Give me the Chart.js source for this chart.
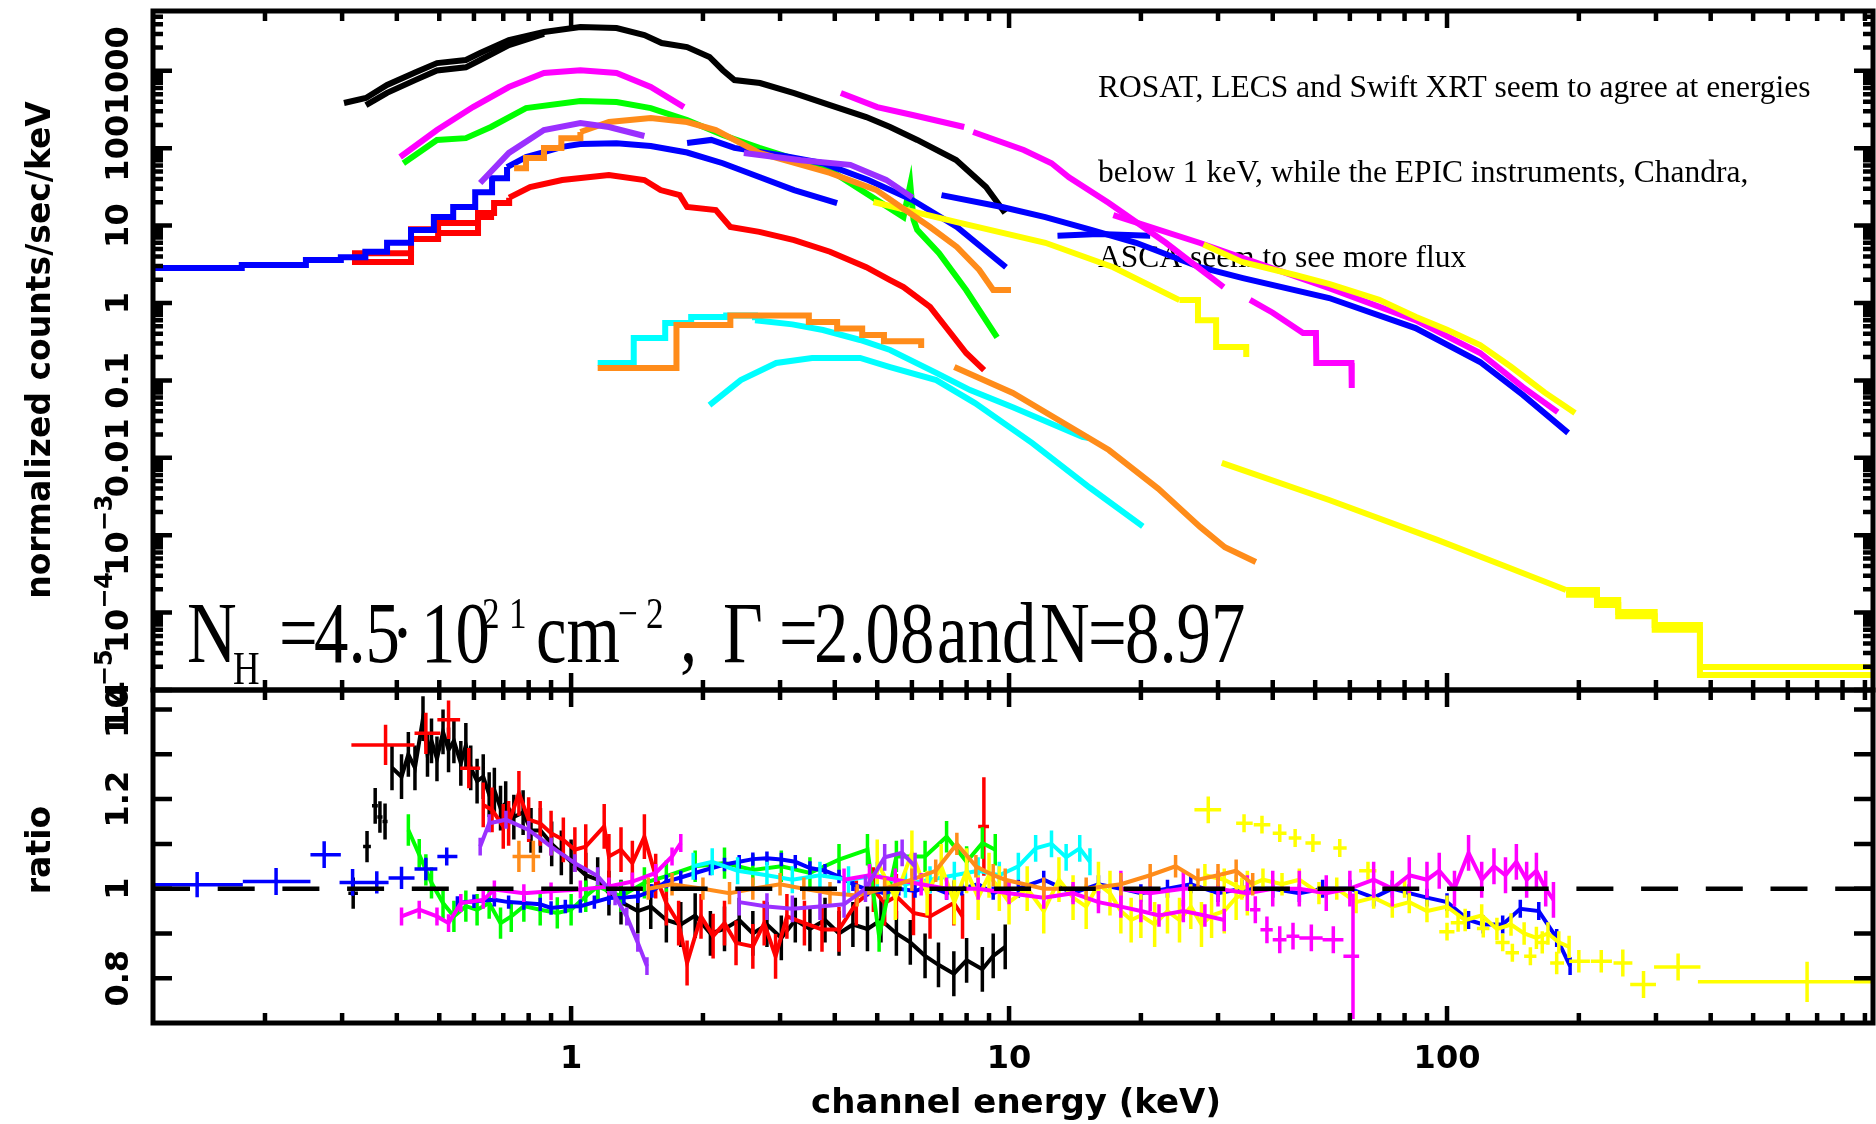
<!DOCTYPE html>
<html>
<head>
<meta charset="utf-8">
<script src="https://cdn.jsdelivr.net/npm/chart.js@4.4.1/dist/chart.umd.min.js"></script>
<style>
  html, body { margin: 0; padding: 0; background: #fff; }
  #wrap { position: relative; width: 1876px; height: 1124px; overflow: hidden; background: #fff; }
  canvas { position: absolute; left: 0; }
  #topChart { top: 0; }
  #ratioChart { top: 680px; }
</style>
</head>
<body>
<div id="wrap">
  <canvas id="topChart" width="1876" height="760"></canvas>
  <canvas id="ratioChart" width="1876" height="444"></canvas>
</div>
<script>
// axis ranges
const X_MIN = 0.111, X_MAX = 939;
const Y_MIN = 1e-5, Y_MAX = 5930;
const R_MIN = 0.7, R_MAX = 1.4437;

// tick labels
const xTickValues = [1, 10, 100];
const xTickLabels = ['1', '10', '100'];
const yTickValues = [1000, 100, 10, 1, 0.1, 0.01, 1e-3, 1e-4, 1e-5];
const yTickLabels = ['1000', '100', '10', '1', '0.1', '0.01', '10^\u22123', '10^\u22124', '10^\u22125'];
const ratioTickValues = [0.8, 1, 1.2, 1.4];
const ratioTickLabels = ['0.8', '1', '1.2', '1.4'];
const ratioMinorValues = [0.8, 0.9, 1.0, 1.1, 1.2, 1.3, 1.4];

// ---- top panel: normalized counts/sec/keV ----
const blackE = [0.303, 0.340, 0.380, 0.443, 0.494, 0.575, 0.620, 0.721, 0.867, 1.05, 1.27, 1.47, 1.61, 1.84, 2.07, 2.22, 2.36, 2.70, 3.23, 3.90, 4.72, 5.35, 6.17, 7.57, 8.86, 9.79];
const blackV = [384, 446, 656, 964, 1260, 1380, 1700, 2500, 3170, 3680, 3570, 2900, 2290, 2030, 1510, 1020, 760, 695, 516, 361, 253, 188, 128, 70.4, 31.5, 14.6];
const black2E = [0.340, 0.380, 0.443, 0.494, 0.575, 0.620, 0.721, 0.867];
const black2V = [360, 520, 770, 1010, 1110, 1380, 2150, 3000];

const magentaLowE = [0.407, 0.494, 0.597, 0.721, 0.867, 1.05, 1.27, 1.52, 1.81];
const magentaLowV = [77, 172, 340, 618, 937, 1020, 937, 618, 340];

const greenE = [0.414, 0.494, 0.575, 0.656, 0.789, 1.05, 1.27, 1.52, 1.84, 2.22, 2.69, 3.9, 4.89, 5.74, 5.95, 6.05, 6.17, 6.92, 7.98, 9.39];
const greenV = [64, 128, 135, 188, 330, 407, 395, 330, 231, 148, 101, 52, 23, 12.9, 34, 12, 8.8, 4.4, 1.47, 0.36];

const purpleE1 = [0.620, 0.721, 0.867, 1.05, 1.22, 1.47];
const purpleV1 = [35.5, 87, 172, 212, 188, 144];
const purpleE2 = [2.48, 3.35, 4.34, 5.24, 6.02];
const purpleV2 = [87, 70, 61, 39, 23];

// binned start + finer part of each spectrum
const orangeBinE = [0.741, 0.789, 0.867, 0.95, 1.05];
const orangeBinV = [55, 75, 101, 135, 162];
const orangeE = [1.05, 1.22, 1.52, 1.84, 2.14, 2.69, 3.90, 4.97, 6.60, 7.6, 8.55, 9.2, 10.1];
const orangeV = [162, 218, 245, 218, 172, 87, 48, 29, 9.6, 5.3, 2.67, 1.47, 1.47];

const blueBinE = [0.111, 0.177, 0.248, 0.298, 0.339, 0.380, 0.431, 0.486, 0.538, 0.604, 0.660, 0.714];
const blueBinV = [2.83, 3.09, 3.6, 3.9, 4.6, 6.0, 8.8, 12.9, 17.4, 27, 41, 57];
const blueE = [0.714, 0.789, 0.867, 0.954, 1.05, 1.27, 1.52, 1.84, 2.22, 2.69, 3.23, 4.05];
const blueV = [57, 77, 89, 104, 113, 116, 107, 88, 64, 42.5, 28.8, 19.6];

const redBinE = [0.316, 0.431, 0.497, 0.613, 0.667, 0.722];
const redBinV = [4.4, 9.0, 10.8, 14.6, 19.6, 23];
const redE = [0.722, 0.806, 0.954, 1.22, 1.47, 1.60, 1.77, 1.84, 2.14, 2.31, 2.69, 3.23, 3.90, 4.72, 5.35, 5.74, 6.60, 7.26, 7.98, 8.77];
const redV = [23, 31.5, 38.8, 45, 38.8, 28.8, 24.8, 17.4, 15.9, 9.6, 8.3, 6.5, 4.6, 2.9, 1.98, 1.61, 0.89, 0.448, 0.226, 0.136];
const red2E = [0.316, 0.431, 0.497, 0.613, 0.667];
const red2V = [3.4, 6.7, 8.0, 12.9, 12.9];

const cyanBinE = [1.15, 1.39, 1.64, 1.88, 2.26, 2.63];
const cyanBinV = [0.168, 0.353, 0.552, 0.66, 0.69, 0.60];
const cyanE = [2.63, 3.2, 3.76, 4.57, 5.35, 6.82, 8.15, 10.2, 14.7, 15.2];
const cyanV = [0.60, 0.53, 0.448, 0.333, 0.247, 0.125, 0.075, 0.045, 0.0186, 0.018];
const cyan2E = [2.07, 2.44, 2.94, 3.55, 4.57, 5.35, 6.82, 8.36, 11.3, 15.3, 20.2];
const cyan2V = [0.048, 0.101, 0.168, 0.195, 0.195, 0.149, 0.101, 0.051, 0.0155, 0.0041, 0.0013];

const orange2E = [1.15, 1.74, 2.31, 3.49, 4.05, 4.62, 5.18, 6.3];
const orange2V = [0.145, 0.52, 0.69, 0.57, 0.47, 0.386, 0.32, 0.262];
const orange3E = [7.5, 10.2, 13.8, 16.9, 21.9, 27.3, 31.1, 36.6];
const orange3V = [0.149, 0.0687, 0.025, 0.0126, 0.004, 0.00128, 0.0007, 0.00045];

const magentaE1 = [4.13, 5.0, 6.02, 7.9];
const magentaV1 = [516, 340, 269, 188];
const magentaE2 = [8.28, 10.8, 12.5, 13.7, 16.9, 22.8, 30.9];
const magentaV2 = [162, 95, 64, 42, 19.6, 6.0, 1.61];
const magentaE3 = [35.5, 40, 46.9, 50.2, 50.3, 60.5, 60.6];
const magentaV3 = [1.1, 0.75, 0.41, 0.41, 0.168, 0.168, 0.08];
const magentaE4 = [17.3, 27.3, 53.8, 84.7, 119, 149, 179];
const magentaV4 = [13.7, 5.96, 1.56, 0.60, 0.226, 0.082, 0.039];

const blue2E = [1.84, 2.09, 2.36, 2.98, 3.76, 4.77, 6.02, 7.6, 9.84];
const blue2V = [117, 128, 101, 82, 64, 38.8, 21.4, 9.6, 2.9];
const blue3E = [7.01, 9.64, 12.1, 15.4, 19.5, 27.3, 34.2, 53.8, 84.7, 119, 149, 189];
const blue3V = [24.8, 17.4, 12.9, 8.8, 6.0, 2.9, 2.1, 1.16, 0.475, 0.173, 0.065, 0.021];
const blue4E = [12.9, 16, 21];
const blue4V = [7.4, 7.8, 7.4];

const yellowE1 = [4.9, 7.6, 12.1, 17.3, 24.5];
const yellowV1 = [20.2, 11.1, 6.0, 2.9, 1.09];
const yellowBinE1 = [24.5, 27, 29.7, 34.8];
const yellowBinV1 = [1.09, 0.6, 0.27, 0.2];
const yellowE2 = [27.8, 34, 45, 54, 70, 85, 100, 119, 140, 167, 196];
const yellowV2 = [5.7, 3.4, 2.3, 1.75, 1.1, 0.66, 0.45, 0.286, 0.15, 0.07, 0.038];
const yellowE3 = [30.6, 53.8, 95, 134, 187];
const yellowV3 = [8.6e-3, 2.85e-3, 8.7e-4, 4.1e-4, 1.96e-4];
const yellowBinE3 = [187, 220, 246, 298, 378, 940];
const yellowBinV3 = [1.96e-4, 1.46e-4, 1.02e-4, 6.9e-5, 1.98e-5, 1.98e-5];
const yellowBinE4 = [187, 220, 246, 298, 378, 940];
const yellowBinV4 = [1.7e-4, 1.25e-4, 9e-5, 6e-5, 1.56e-5, 1.56e-5];

// ---- bottom panel: ratio ----
const rBlackBinE = [0.318, 0.342, 0.357, 0.366, 0.376];
const rBlackBinLo = [0.31, 0.335, 0.351, 0.361, 0.371];
const rBlackBinHi = [0.326, 0.349, 0.362, 0.371, 0.381];
const rBlackBinR = [0.99, 1.094, 1.185, 1.16, 1.15];
const rBlackBinErr = [0.035, 0.035, 0.04, 0.035, 0.04];
const rBlackE = [0.39, 0.41, 0.425, 0.44, 0.459, 0.47, 0.48, 0.494, 0.51, 0.525, 0.54, 0.56, 0.575, 0.59, 0.61, 0.63, 0.65, 0.668, 0.69, 0.709, 0.74, 0.777, 0.81, 0.851, 0.903, 0.95, 1.0, 1.08, 1.15, 1.22, 1.3, 1.42, 1.52, 1.65, 1.78, 1.92, 2.08, 2.24, 2.42, 2.6, 2.8, 3.02, 3.25, 3.51, 3.8, 4.09, 4.4, 4.75, 5.1, 5.53, 5.95, 6.43, 6.9, 7.48, 8.0, 8.69, 9.2, 9.8];
const rBlackR = [1.27, 1.25, 1.30, 1.27, 1.38, 1.30, 1.33, 1.29, 1.35, 1.31, 1.33, 1.28, 1.32, 1.27, 1.24, 1.25, 1.21, 1.22, 1.18, 1.19, 1.16, 1.17, 1.13, 1.13, 1.10, 1.08, 1.06, 1.03, 1.02, 0.99, 0.97, 0.95, 0.96, 0.93, 0.92, 0.94, 0.90, 0.91, 0.93, 0.90, 0.92, 0.89, 0.93, 0.91, 0.93, 0.90, 0.92, 0.91, 0.93, 0.90, 0.88, 0.85, 0.83, 0.81, 0.84, 0.82, 0.85, 0.87];

const rRedBinE = [0.377, 0.466, 0.525, 0.584, 8.76];
const rRedBinLo = [0.315, 0.439, 0.495, 0.558, 8.5];
const rRedBinHi = [0.439, 0.503, 0.558, 0.62, 9.0];
const rRedBinR = [1.321, 1.347, 1.377, 1.269, 1.139];
const rRedBinErr = [0.045, 0.046, 0.043, 0.045, 0.11];
const rRedE = [0.63, 0.66, 0.70, 0.72, 0.76, 0.80, 0.85, 0.90, 0.96, 1.02, 1.08, 1.19, 1.22, 1.30, 1.38, 1.47, 1.56, 1.65, 1.76, 1.84, 1.98, 2.11, 2.24, 2.38, 2.6, 2.76, 2.93, 3.11, 3.41, 3.74, 4.09, 4.48, 4.9, 5.2, 5.53, 6.05, 6.6, 7.48, 7.83];
const rRedR = [1.187, 1.176, 1.139, 1.146, 1.213, 1.154, 1.146, 1.124, 1.109, 1.087, 1.094, 1.139, 1.072, 1.087, 1.057, 1.116, 1.028, 0.968, 0.923, 0.834, 0.938, 0.894, 0.923, 0.879, 0.871, 0.923, 0.849, 0.938, 0.923, 0.909, 0.909, 0.968, 0.998, 0.968, 0.983, 0.946, 0.938, 0.968, 0.938];

const rGreenE = [0.425, 0.45, 0.466, 0.48, 0.51, 0.54, 0.575, 0.61, 0.65, 0.69, 0.73, 0.78, 0.85, 0.93, 1.0, 1.08, 1.15, 1.3, 1.47, 1.65, 1.92, 2.24, 2.6, 3.02, 3.51, 4.09, 4.75, 5.05, 5.53, 6.43, 7.2, 8.0, 8.69, 9.3];
const rGreenR = [1.131, 1.076, 1.042, 1.013, 0.968, 0.938, 0.961, 0.953, 0.968, 0.923, 0.938, 0.961, 0.953, 0.946, 0.953, 0.983, 1.005, 0.983, 1.013, 1.028, 1.05, 1.057, 1.042, 1.05, 1.035, 1.065, 1.087, 0.894, 1.072, 1.072, 1.116, 1.06, 1.102, 1.087];

const rBlueBinE = [0.14, 0.212, 0.273, 0.317, 0.36, 0.41, 0.466, 0.52];
const rBlueBinLo = [0.111, 0.178, 0.254, 0.296, 0.339, 0.383, 0.439, 0.495];
const rBlueBinHi = [0.178, 0.254, 0.298, 0.339, 0.383, 0.439, 0.495, 0.55];
const rBlueBinR = [1.009, 1.016, 1.076, 1.014, 1.014, 1.024, 1.044, 1.072];
const rBlueBinErr = [0.028, 0.03, 0.03, 0.03, 0.025, 0.025, 0.025, 0.02];
const rBlueE = [0.55, 0.6, 0.668, 0.72, 0.78, 0.85, 0.9, 0.97, 1.05, 1.13, 1.22, 1.32, 1.42, 1.53, 1.65, 1.78, 1.92, 2.08, 2.24, 2.42, 2.6, 2.8, 3.02, 3.25, 3.51, 3.8, 4.09, 4.4, 4.75, 5.2, 5.6, 6.1, 6.6, 7.2, 7.8, 8.5, 9.2, 9.9];
const rBlueR = [0.968, 0.972, 0.975, 0.97, 0.968, 0.965, 0.957, 0.96, 0.961, 0.97, 0.979, 0.98, 0.983, 0.995, 1.016, 1.025, 1.035, 1.045, 1.054, 1.06, 1.066, 1.068, 1.065, 1.06, 1.046, 1.04, 1.027, 1.01, 0.998, 0.99, 1.0, 0.995, 1.005, 0.99, 1.0, 1.01, 0.99, 1.0];
const rBlue2E = [10.5, 12, 14, 16, 18, 20, 23, 26, 30, 34, 40, 46, 52, 60, 68, 75, 82, 90, 100, 112, 121, 134, 147, 162, 178, 191];
const rBlue2R = [1.0, 1.02, 0.99, 1.01, 1.0, 0.99, 1.0, 1.01, 0.99, 1.0, 1.0, 0.99, 1.0, 1.0, 0.98, 1.0, 0.99, 0.98, 0.97, 0.93, 0.92, 0.92, 0.955, 0.95, 0.89, 0.827];

const rMagentaE = [0.41, 0.45, 0.494, 0.525, 0.56, 0.63, 0.668, 0.78, 0.9, 1.05, 1.22, 1.38, 1.56, 1.7, 1.78];
const rMagentaR = [0.938, 0.953, 0.938, 0.923, 0.968, 0.975, 0.998, 0.99, 0.994, 0.998, 1.005, 1.016, 1.035, 1.072, 1.102];
const rMagenta2E = [4.2, 4.8, 5.5, 6.3, 7.2, 8.5, 10, 12, 14, 16, 18, 20, 22, 25, 28, 31];
const rMagenta2R = [1.02, 1.03, 1.02, 1.01, 1.0, 1.0, 0.99, 0.98, 0.99, 0.97, 0.96, 0.95, 0.94, 0.95, 0.94, 0.93];
const rMagentaBinE = [36.5, 38.8, 41.5, 44.5, 49, 55, 61];
const rMagentaBinLo = [35.5, 37.5, 40, 43, 46, 52, 58];
const rMagentaBinHi = [37.5, 40, 43, 46, 52, 58, 63];
const rMagentaBinR = [0.953, 0.908, 0.886, 0.894, 0.89, 0.886, 0.849];
const rMagentaBinErr = [0.03, 0.03, 0.03, 0.03, 0.03, 0.03, 0.14];
const rMagenta4E = [18, 21, 25, 30, 35, 40, 46, 53, 60, 68, 75, 82, 90, 96, 104, 112, 120, 128, 136, 144, 152, 160, 168, 175];
const rMagenta4R = [1.0, 0.99, 1.0, 1.0, 0.99, 1.0, 1.0, 0.99, 1.0, 1.02, 1.0, 1.03, 1.02, 1.04, 1.0, 1.08, 1.02, 1.05, 1.03, 1.06, 1.02, 1.04, 1.0, 0.975];

const rPurpleE1 = [0.62, 0.65, 0.71, 0.8, 0.9, 1.02, 1.15, 1.26, 1.34, 1.42, 1.49];
const rPurpleR1 = [1.094, 1.146, 1.154, 1.131, 1.094, 1.057, 1.028, 0.983, 0.938, 0.879, 0.827];
const rPurpleE2 = [2.42, 2.8, 3.2, 3.7, 4.2, 4.7, 5.2, 5.7, 6.1];
const rPurpleR2 = [0.97, 0.96, 0.955, 0.96, 0.965, 1.0, 1.07, 1.08, 1.05];

const rOrangeBinE = [0.76, 0.82];
const rOrangeBinLo = [0.735, 0.79];
const rOrangeBinHi = [0.79, 0.85];
const rOrangeBinR = [1.072, 1.072];
const rOrangeBinErr = [0.035, 0.035];
const rOrangeE = [1.5, 1.7, 2.0, 2.3, 2.6, 3.0, 3.4, 3.9, 4.5, 5.2, 6.0, 6.8, 7.6, 8.4, 9.2, 9.8, 12, 15, 18, 21, 24, 27, 30, 33, 36];
const rOrangeR = [1.0, 1.01, 1.0, 0.99, 1.0, 1.01, 1.0, 0.99, 0.985, 1.0, 1.02, 1.04, 1.1, 1.05, 1.03, 1.02, 1.0, 1.0, 1.01, 1.03, 1.05, 1.02, 1.03, 1.04, 1.01];

const rCyanE = [1.9, 2.1, 2.4, 2.8, 3.2, 3.7, 4.3, 5.0, 5.8, 6.6, 7.5, 8.5, 9.5, 10.5, 11.5, 12.5, 13.5, 14.5, 15.3];
const rCyanR = [1.05, 1.06, 1.04, 1.03, 1.02, 1.03, 1.02, 1.03, 1.01, 1.02, 1.03, 1.04, 1.03, 1.05, 1.09, 1.1, 1.07, 1.09, 1.06];

const rYellowE1 = [5.0, 5.5, 6.0, 6.5, 7.0, 7.5, 8.0, 8.5, 9.0, 9.5, 10, 11, 12, 13, 14, 15, 16, 17, 18, 19, 20, 21.5, 23, 24.5, 26, 27.5, 29, 31, 33, 35];
const rYellowR1 = [1.06, 0.98, 1.08, 0.99, 1.05, 0.97, 1.04, 0.98, 1.03, 1.0, 0.97, 1.0, 0.95, 1.02, 0.98, 0.96, 1.01, 0.99, 0.95, 0.93, 0.94, 0.92, 0.95, 0.93, 0.96, 0.92, 0.94, 0.95, 0.98, 0.99];
const rYellowE2 = [28, 31, 34, 38, 42, 46, 51, 56, 62, 68, 75, 82, 90, 100, 110, 120, 130, 140, 150, 160, 170, 180, 190];
const rYellowR2 = [1.03, 1.02, 1.0, 1.02, 1.01, 1.02, 0.99, 1.0, 0.97, 0.98, 0.96, 0.97, 0.95, 0.96, 0.93, 0.94, 0.91, 0.92, 0.9, 0.89, 0.9, 0.88, 0.87];
const rYellowBinE = [28.5, 34.4, 37.8, 41.5, 45, 49.4, 56.9, 66, 80, 100, 106, 121, 134, 141, 155, 165, 178, 200, 225, 252, 281, 337, 664];
const rYellowBinLo = [26.5, 33, 36.2, 40, 43.5, 47.5, 55, 63, 76, 96, 102, 117, 129, 136, 150, 159, 172, 190, 213, 240, 262, 297, 374];
const rYellowBinHi = [30.5, 36, 39.5, 43, 46.5, 51.5, 59, 69, 84, 104, 110, 125, 139, 146, 160, 171, 185, 212, 238, 265, 300, 379, 945];
const rYellowBinR = [1.176, 1.146, 1.143, 1.124, 1.113, 1.102, 1.091, 1.04, 1.0, 0.904, 0.924, 0.911, 0.88, 0.857, 0.849, 0.88, 0.834, 0.838, 0.838, 0.834, 0.786, 0.825, 0.792];
const rYellowBinErr = [0.03, 0.02, 0.02, 0.02, 0.02, 0.02, 0.02, 0.02, 0.02, 0.02, 0.02, 0.02, 0.02, 0.02, 0.02, 0.025, 0.025, 0.025, 0.025, 0.03, 0.03, 0.03, 0.045];

// colours
const C = {
    black: '#000000', red: '#ff0000', green: '#00ff00', blue: '#0000ff', cyan: '#00ffff',
    magenta: '#ff00ff', yellow: '#ffff00', orange: '#ff8c1a', purple: '#9b30ff'
};

function pts(E, V) {
    return E.map((e, i) => ({ x: e, y: V[i] }));
}

// a spectrum line in the top panel
function spectrum(E, V, color, stepped) {
    return {
        data: pts(E, V), borderColor: color, borderWidth: 6, pointRadius: 0,
        fill: false, tension: 0, stepped: stepped ? 'before' : false,
        borderJoinStyle: 'miter'
    };
}

// a ratio series: dense ones get a line, binned ones get crosses
function ratio(E, R, err, color, lo, hi) {
    return {
        data: pts(E, R), borderColor: color, borderWidth: lo ? 0 : 4, showLine: !lo,
        pointRadius: 0, fill: false, tension: 0, errY: err, xLo: lo, xHi: hi
    };
}

const topSets = [
    spectrum(blackE, blackV, C.black),
    spectrum(black2E, black2V, C.black),
    spectrum(redBinE, redBinV, C.red, true),
    spectrum(redE, redV, C.red),
    spectrum(red2E, red2V, C.red, true),
    spectrum(greenE, greenV, C.green),
    spectrum(blueBinE, blueBinV, C.blue, true),
    spectrum(blueE, blueV, C.blue),
    spectrum(magentaLowE, magentaLowV, C.magenta),
    spectrum(cyanBinE, cyanBinV, C.cyan, true),
    spectrum(cyanE, cyanV, C.cyan),
    spectrum(cyan2E, cyan2V, C.cyan),
    spectrum(blue2E, blue2V, C.blue),
    spectrum(blue3E, blue3V, C.blue),
    spectrum(blue4E, blue4V, C.blue),
    spectrum(magentaE1, magentaV1, C.magenta),
    spectrum(magentaE2, magentaV2, C.magenta),
    spectrum(magentaE3, magentaV3, C.magenta),
    spectrum(magentaE4, magentaV4, C.magenta),
    spectrum(yellowE1, yellowV1, C.yellow),
    spectrum(yellowBinE1, yellowBinV1, C.yellow, true),
    spectrum(yellowE2, yellowV2, C.yellow),
    spectrum(yellowE3, yellowV3, C.yellow),
    spectrum(yellowBinE3, yellowBinV3, C.yellow, true),
    spectrum(yellowBinE4, yellowBinV4, C.yellow, true),
    spectrum(orangeBinE, orangeBinV, C.orange, true),
    spectrum(orangeE, orangeV, C.orange),
    spectrum(orange2E, orange2V, C.orange, true),
    spectrum(orange3E, orange3V, C.orange),
    spectrum(purpleE1, purpleV1, C.purple),
    spectrum(purpleE2, purpleV2, C.purple)
];

const ratioSets = [
    ratio(rBlackBinE, rBlackBinR, rBlackBinErr, C.black, rBlackBinLo, rBlackBinHi),
    ratio(rBlackE, rBlackR, 0.05, C.black),
    ratio(rRedE, rRedR, 0.05, C.red),
    ratio(rRedBinE, rRedBinR, rRedBinErr, C.red, rRedBinLo, rRedBinHi),
    ratio(rGreenE, rGreenR, 0.035, C.green),
    ratio(rBlueBinE, rBlueBinR, rBlueBinErr, C.blue, rBlueBinLo, rBlueBinHi),
    ratio(rBlueE, rBlueR, 0.015, C.blue),
    ratio(rCyanE, rCyanR, 0.03, C.cyan),
    ratio(rMagentaE, rMagentaR, 0.02, C.magenta),
    ratio(rBlue2E, rBlue2R, 0.02, C.blue),
    ratio(rYellowE1, rYellowR1, 0.05, C.yellow),
    ratio(rYellowE2, rYellowR2, 0.025, C.yellow),
    ratio(rYellowBinE, rYellowBinR, rYellowBinErr, C.yellow, rYellowBinLo, rYellowBinHi),
    ratio(rMagenta2E, rMagenta2R, 0.025, C.magenta),
    ratio(rMagentaBinE, rMagentaBinR, rMagentaBinErr, C.magenta, rMagentaBinLo, rMagentaBinHi),
    ratio(rMagenta4E, rMagenta4R, 0.04, C.magenta),
    ratio(rOrangeE, rOrangeR, 0.025, C.orange),
    ratio(rOrangeBinE, rOrangeBinR, rOrangeBinErr, C.orange, rOrangeBinLo, rOrangeBinHi),
    ratio(rPurpleE1, rPurpleR1, 0.02, C.purple),
    ratio(rPurpleE2, rPurpleR2, 0.03, C.purple)
];

// later datasets on top (XSPEC plots in order)
topSets.forEach((d, i) => { d.order = -i; });
ratioSets.forEach((d, i) => { d.order = -i; });

const TICK_FONT = 'bold 32px "DejaVu Sans"';
const SUP_FONT = 'bold 24px "DejaVu Sans"';
const TITLE_FONT = 'bold 33px "DejaVu Sans"';

function vText(ctx, text, x, y, font) {
    ctx.save();
    ctx.translate(x, y);
    ctx.rotate(-Math.PI / 2);
    ctx.font = font;
    ctx.textAlign = 'center';
    ctx.textBaseline = 'alphabetic';
    ctx.fillText(text, 0, 0);
    ctx.restore();
}

// rotated tick label, 'a^b' gives a superscript
function vLabel(ctx, text, x, y) {
    const parts = text.split('^');
    ctx.save();
    ctx.translate(x, y);
    ctx.rotate(-Math.PI / 2);
    ctx.fillStyle = '#000';
    ctx.textAlign = 'left';
    ctx.textBaseline = 'alphabetic';
    ctx.font = TICK_FONT;
    const w1 = ctx.measureText(parts[0]).width;
    let w2 = 0;
    if (parts[1]) { ctx.font = SUP_FONT; w2 = ctx.measureText(parts[1]).width; }
    const x0 = -(w1 + w2) / 2;
    ctx.font = TICK_FONT;
    ctx.fillText(parts[0], x0, 0);
    if (parts[1]) { ctx.font = SUP_FONT; ctx.fillText(parts[1], x0 + w1, -16); }
    ctx.restore();
}

function frame(ctx, a) {
    ctx.save();
    ctx.strokeStyle = '#000';
    ctx.lineWidth = 5;
    ctx.strokeRect(a.left, a.top, a.right - a.left, a.bottom - a.top);
    ctx.restore();
}

function logXTicks(ctx, xs, a) {
    ctx.save();
    ctx.strokeStyle = '#000';
    ctx.lineWidth = 4.5;
    ctx.beginPath();
    for (let d = -1; d <= 2; d++) {
        for (let m = 1; m <= 9; m++) {
            const v = m * Math.pow(10, d);
            if (v <= X_MIN || v >= X_MAX) continue;
            const px = xs.getPixelForValue(v);
            const len = m === 1 ? 17 : 10;
            ctx.moveTo(px, a.top); ctx.lineTo(px, a.top + len);
            ctx.moveTo(px, a.bottom); ctx.lineTo(px, a.bottom - len);
        }
    }
    ctx.stroke();
    ctx.restore();
}

function yTicks(ctx, ys, a, values, lenOf) {
    ctx.save();
    ctx.strokeStyle = '#000';
    ctx.lineWidth = 4.5;
    ctx.beginPath();
    values.forEach(v => {
        const py = ys.getPixelForValue(v);
        const len = lenOf(v);
        ctx.moveTo(a.left, py); ctx.lineTo(a.left + len, py);
        ctx.moveTo(a.right, py); ctx.lineTo(a.right - len, py);
    });
    ctx.stroke();
    ctx.restore();
}

// error bars for the ratio panel, drawn right after each dataset
const errorBars = {
    id: 'errorBars',
    afterDatasetDraw(chart, args) {
        const ds = chart.data.datasets[args.index];
        if (ds.errY === undefined) return;
        const { ctx, chartArea: a } = chart;
        const xs = chart.scales.x, ys = chart.scales.y;
        ctx.save();
        ctx.beginPath();
        ctx.rect(a.left, a.top, a.right - a.left, a.bottom - a.top);
        ctx.clip();
        ctx.strokeStyle = ds.borderColor;
        ctx.lineWidth = 3.5;
        ctx.beginPath();
        ds.data.forEach((p, i) => {
            const e = Array.isArray(ds.errY) ? ds.errY[i] : ds.errY;
            const px = xs.getPixelForValue(p.x);
            ctx.moveTo(px, ys.getPixelForValue(p.y - e));
            ctx.lineTo(px, ys.getPixelForValue(p.y + e));
            if (ds.xLo) {
                const py = ys.getPixelForValue(p.y);
                ctx.moveTo(xs.getPixelForValue(ds.xLo[i]), py);
                ctx.lineTo(xs.getPixelForValue(ds.xHi[i]), py);
            }
        });
        ctx.stroke();
        ctx.restore();
    }
};

// the fit result written in the top panel
function drawFitText(ctx) {
    const pieces = [
        ['N', 187, 662, 86], ['H', 233, 684, 46], ['=', 279, 662, 86], ['4.5', 314, 662, 86],
        ['\u00b7', 391, 662, 86], ['10', 421, 662, 86], ['2', 482, 628, 44], ['1', 509, 628, 44],
        ['cm', 536, 662, 86], ['\u2212', 618, 628, 44], ['2', 646, 628, 44], [',', 680, 662, 86],
        ['\u0393', 723, 662, 86], ['=', 779, 662, 86], ['2.08', 814, 662, 86], ['and', 937, 662, 86],
        ['N', 1040, 662, 86], ['=', 1088, 662, 86], ['8.97', 1125, 662, 86]
    ];
    ctx.save();
    ctx.fillStyle = '#000';
    ctx.textBaseline = 'alphabetic';
    pieces.forEach(([t, x, y, s]) => {
        ctx.save();
        ctx.translate(x, y);
        ctx.scale(0.8, 1);
        ctx.font = s + 'px "Liberation Serif"';
        ctx.fillText(t, 0, 0);
        ctx.restore();
    });
    ctx.restore();
}

const topDecor = {
    id: 'topDecor',
    beforeDatasetsDraw(chart) {
        const ctx = chart.ctx;
        ctx.save();
        ctx.fillStyle = '#000';
        ctx.font = '31.5px "Liberation Serif"';
        ctx.textBaseline = 'alphabetic';
        ctx.fillText('ROSAT, LECS and Swift XRT seem to agree at energies', 1098, 97);
        ctx.fillText('below 1 keV, while the EPIC instruments, Chandra,', 1098, 182);
        ctx.fillText('ASCA seem to see more flux', 1098, 267);
        ctx.restore();
    },
    afterDraw(chart) {
        const { ctx, chartArea: a } = chart;
        const xs = chart.scales.x, ys = chart.scales.y;
        const minor = [];
        for (let d = -5; d <= 3; d++) for (let m = 1; m <= 9; m++) {
            const v = m * Math.pow(10, d);
            if (v >= Y_MIN && v <= Y_MAX) minor.push(v);
        }
        yTicks(ctx, ys, a, minor, v => (Math.abs(Math.log10(v) - Math.round(Math.log10(v))) < 1e-6 ? 19 : 10));
        logXTicks(ctx, xs, a);
        frame(ctx, a);
        yTickValues.forEach((v, i) => vLabel(ctx, yTickLabels[i], a.left - 25, ys.getPixelForValue(v)));
        ctx.fillStyle = '#000';
        vText(ctx, 'normalized counts/sec/keV', 50, 350, TITLE_FONT);
        drawFitText(ctx);
    }
};

const ratioDecor = {
    id: 'ratioDecor',
    afterDatasetsDraw(chart) {
        const { ctx, chartArea: a } = chart;
        const py = chart.scales.y.getPixelForValue(1);
        ctx.save();
        ctx.strokeStyle = '#000';
        ctx.lineWidth = 4.5;
        ctx.setLineDash([37, 27.7]);
        ctx.beginPath();
        ctx.moveTo(a.left, py);
        ctx.lineTo(a.right, py);
        ctx.stroke();
        ctx.restore();
    },
    afterDraw(chart) {
        const { ctx, chartArea: a } = chart;
        const xs = chart.scales.x, ys = chart.scales.y;
        yTicks(ctx, ys, a, ratioMinorValues, () => 19);
        logXTicks(ctx, xs, a);
        frame(ctx, a);
        ratioTickValues.forEach((v, i) => vLabel(ctx, ratioTickLabels[i], a.left - 25, ys.getPixelForValue(v)));
        ctx.save();
        ctx.fillStyle = '#000';
        ctx.font = TICK_FONT;
        ctx.textAlign = 'center';
        ctx.textBaseline = 'alphabetic';
        xTickValues.forEach((v, i) => ctx.fillText(xTickLabels[i], xs.getPixelForValue(v), a.bottom + 45));
        ctx.font = 'bold 34px "DejaVu Sans"';
        ctx.fillText('channel energy (keV)', 1016, a.bottom + 90);
        ctx.restore();
        ctx.fillStyle = '#000';
        vText(ctx, 'ratio', 50, 170, TITLE_FONT);
    }
};

function baseOptions(yType, yMin, yMax, padding) {
    return {
        responsive: false,
        animation: false,
        devicePixelRatio: 1,
        events: [],
        layout: { padding: padding },
        scales: {
            x: { type: 'logarithmic', min: X_MIN, max: X_MAX, display: false },
            y: { type: yType, min: yMin, max: yMax, display: false }
        },
        plugins: { legend: { display: false }, tooltip: { enabled: false }, title: { display: false } }
    };
}

new Chart(document.getElementById('topChart'), {
    type: 'line',
    data: { datasets: topSets },
    options: baseOptions('logarithmic', Y_MIN, Y_MAX, { left: 153, right: 3, top: 11, bottom: 70 }),
    plugins: [topDecor]
});

new Chart(document.getElementById('ratioChart'), {
    type: 'line',
    data: { datasets: ratioSets },
    options: baseOptions('linear', R_MIN, R_MAX, { left: 153, right: 3, top: 10, bottom: 101 }),
    plugins: [errorBars, ratioDecor]
});
</script>
</body>
</html>
